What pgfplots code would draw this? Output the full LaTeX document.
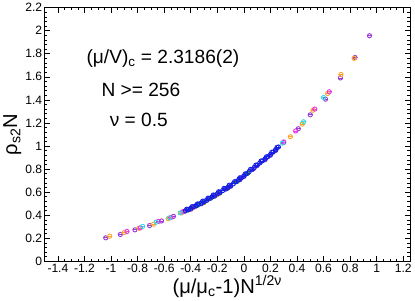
\documentclass[border=0pt]{standalone}
\usepackage{pgfplots}
\pgfplotsset{compat=1.18}
\usepackage{fontspec}
\setmainfont{Liberation Sans}
\definecolor{cviolet}{RGB}{150,60,210}
\definecolor{corange}{RGB}{255,165,40}
\definecolor{cmagenta}{RGB}{235,50,235}
\definecolor{ccyan}{RGB}{50,220,230}
\definecolor{cblue}{RGB}{20,30,230}
\definecolor{cgreen}{RGB}{20,150,30}
\definecolor{cpurple}{RGB}{110,40,200}
\begin{document}
\begin{tikzpicture}
\begin{axis}[
  scale only axis,
  width=362.7pt, height=252pt,
  xmin=-1.5, xmax=1.25, ymin=0, ymax=2.2,
  xtick={-1.4,-1.2,-1,-0.8,-0.6,-0.4,-0.2,0,0.2,0.4,0.6,0.8,1,1.2},
  xticklabels={-1.4,-1.2,-1,-0.8,-0.6,-0.4,-0.2,0,0.2,0.4,0.6,0.8,1,1.2},
  ytick={0,0.2,0.4,0.6,0.8,1,1.2,1.4,1.6,1.8,2,2.2},
  yticklabels={0,0.2,0.4,0.6,0.8,1,1.2,1.4,1.6,1.8,2,2.2},
  minor x tick num=3, minor y tick num=4,
  tick align=inside, xtick pos=both, ytick pos=both,
  major tick length=5pt, minor tick length=2.5pt,
  every tick/.style={black, line width=0.5pt},
  axis line style={line width=0.6pt},
  tick label style={font=\fontsize{12}{13}\selectfont},
  xticklabel style={yshift=1pt},
  yticklabel style={xshift=1pt},
  xlabel={(μ/μ\textsubscript{c}-1)N\textsuperscript{1/2ν}},
  ylabel={ρ\textsubscript{s2}N},
  label style={font=\fontsize{20}{21}\selectfont},
  xlabel style={yshift=4pt},
  ylabel style={yshift=-3pt},
  /pgf/number format/assume math mode=true,
  clip=false,
  every axis plot/.append style={only marks, mark=o, mark size=2.1pt, line width=0.9pt,
     error bars/x dir=both, error bars/x fixed=0.018,
     error bars/error bar style={line width=0.7pt}, error bars/error mark=none},
]
% violet
\addplot[cviolet] coordinates {
(-1.04,0.204) (-0.93,0.233) (-0.82,0.273) (-0.71,0.31) (-0.62,0.35) (-0.53,0.39)
(-0.45,0.433) (-0.37,0.474) (-0.28,0.527) (-0.19,0.588) (-0.1,0.65) (0.0,0.735)
(0.1,0.83) (0.2,0.92) (0.3,1.03) (0.41,1.15) (0.50,1.27) (0.615,1.406)
(0.727,1.59) (0.837,1.767) (0.946,1.956)};
% orange
\addplot[corange] coordinates {
(-1.01,0.218) (-0.9,0.25) (-0.79,0.287) (-0.68,0.322) (-0.57,0.37) (-0.47,0.42)
(-0.38,0.465) (-0.30,0.51) (-0.2,0.578) (0.35,1.08) (0.44,1.19) (0.52,1.31)
(0.63,1.455) (0.731,1.62) (0.83,1.76)};
% magenta
\addplot[cmagenta] coordinates {
(-0.88,0.259) (-0.78,0.29) (-0.643,0.346) (-0.55,0.38) (-0.46,0.43) (-0.36,0.48)
(-0.25,0.548) (0.30,1.035) (0.39,1.13) (0.534,1.32) (0.643,1.47)};
% cyan
\addplot[ccyan] coordinates {
(-0.762,0.303) (-0.66,0.34) (-0.56,0.377) (-0.48,0.42) (-0.33,0.5) (0.29,1.025)
(0.45,1.21) (0.60,1.42)};
% green
\addplot[cgreen] coordinates {
(-0.42,0.445) (-0.35,0.485) (-0.30,0.513) (-0.25,0.548) (-0.18,0.594)
(-0.12,0.637) (-0.05,0.693) (0.03,0.765)};
% purple
\addplot[cpurple] coordinates {
(-0.40,0.452) (-0.32,0.499) (-0.22,0.565) (-0.13,0.629) (-0.03,0.708)
(0.07,0.8) (0.16,0.882) (0.24,0.962)};
% blue
\addplot[cblue] coordinates {
(-0.44,0.438) (-0.42,0.449) (-0.40,0.46) (-0.38,0.472) (-0.36,0.483) (-0.34,0.495)
(-0.32,0.506) (-0.30,0.518) (-0.28,0.531) (-0.26,0.545) (-0.24,0.558) (-0.22,0.572)
(-0.20,0.585) (-0.18,0.599) (-0.16,0.613) (-0.14,0.627) (-0.12,0.641) (-0.10,0.655)
(-0.08,0.672) (-0.06,0.689) (-0.04,0.706) (-0.02,0.723) (0.00,0.74) (0.02,0.759)
(0.04,0.778) (0.06,0.797) (0.08,0.816) (0.10,0.835) (0.12,0.853) (0.14,0.871)
(0.16,0.889) (0.18,0.907) (0.20,0.925) (0.22,0.947) (0.24,0.969) (0.26,0.991)};
\addplot[cblue] coordinates {
(-0.43,0.452) (-0.39,0.474) (-0.35,0.497) (-0.31,0.522) (-0.27,0.548) (-0.23,0.575)
(-0.19,0.603) (-0.15,0.632) (-0.11,0.66) (-0.07,0.69) (-0.03,0.724) (0.01,0.758)
(0.05,0.797) (0.09,0.834) (0.13,0.87) (0.17,0.906) (0.21,0.945) (0.25,0.988)};
\node[anchor=base west, font=\fontsize{19}{20}\selectfont, inner sep=0pt] at (axis cs:-1.186,1.712) {(μ/V)\textsubscript{c} = 2.3186(2)};
\node[anchor=base west, font=\fontsize{19}{20}\selectfont, inner sep=0pt] at (axis cs:-1.073,1.432) {N >= 256};
\node[anchor=base west, font=\fontsize{19}{20}\selectfont, inner sep=0pt] at (axis cs:-1.011,1.17) {ν = 0.5};
\end{axis}
\end{tikzpicture}
\end{document}
